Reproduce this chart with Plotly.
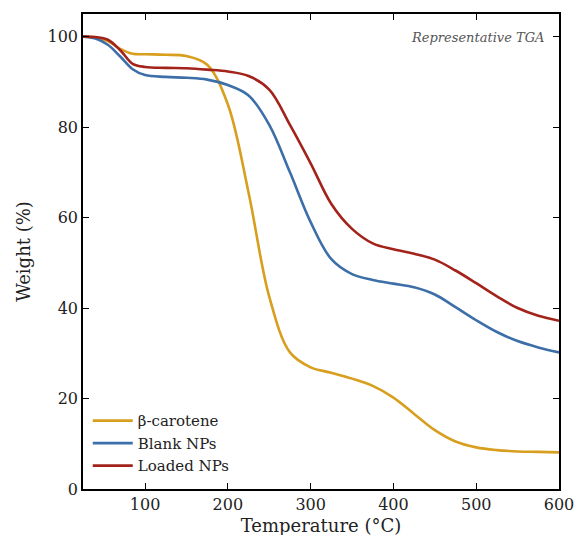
import plotly.graph_objects as go

# Temperature grid (°C) and residual weight (%) for each sample
temperature = [25, 40, 55, 70, 85, 100, 125, 150, 175, 200, 225, 250, 275,
               300, 325, 350, 375, 400, 425, 450, 475, 500, 525, 550, 575, 600]

beta_carotene = [100, 99.8, 99.0, 97.3, 96.2, 96.1, 96.0, 95.7, 93.8, 85.0,
                 65.5, 42.5, 30.2, 26.9, 25.7, 24.4, 22.8, 20.2, 16.6, 13.0,
                 10.5, 9.2, 8.6, 8.3, 8.2, 8.1]

blank_nps = [100, 99.6, 98.2, 95.6, 92.8, 91.5, 91.1, 90.9, 90.5, 89.3,
             87.0, 80.5, 70.0, 59.0, 50.8, 47.5, 46.2, 45.4, 44.6, 43.0,
             40.2, 37.3, 34.7, 32.7, 31.3, 30.2]

loaded_nps = [100, 99.9, 99.3, 97.0, 94.0, 93.3, 93.1, 93.0, 92.7, 92.3,
              91.3, 88.3, 80.5, 72.0, 63.0, 57.5, 54.3, 53.0, 52.0, 50.7,
              48.3, 45.5, 42.6, 40.0, 38.3, 37.2]

series = [
    ("β-carotene", beta_carotene, "#D89E1E"),
    ("Blank NPs", blank_nps, "#3C6EA8"),
    ("Loaded NPs", loaded_nps, "#A3231B"),
]

FONT = "DejaVu Serif"

fig = go.Figure()
for name, values, color in series:
    fig.add_trace(go.Scatter(
        x=temperature, y=values, name=name, mode="lines",
        line=dict(color=color, width=2.6, shape="spline", smoothing=1.0),
    ))

axis_style = dict(
    showline=True, linecolor="black", linewidth=1.6, mirror="ticks",
    ticks="inside", ticklen=6, tickwidth=1.4, tickcolor="black",
    showgrid=False, zeroline=False,
    tickfont=dict(family=FONT, size=16, color="#222"),
)

fig.update_xaxes(range=[25, 600], tickvals=[100, 200, 300, 400, 500, 600],
                 title=dict(text="Temperature (°C)",
                            font=dict(family=FONT, size=18, color="#222"),
                            standoff=6),
                 **axis_style)
fig.update_yaxes(range=[0, 105], tickvals=[0, 20, 40, 60, 80, 100],
                 title=dict(text="Weight (%)",
                            font=dict(family=FONT, size=18, color="#222"),
                            standoff=12),
                 **axis_style)

fig.add_annotation(
    text="<i>Representative TGA</i>", xref="paper", yref="paper",
    x=0.972, y=0.971, xanchor="right", yanchor="top", showarrow=False,
    font=dict(family=FONT, size=13, color="#555"),
)

fig.update_layout(
    width=586, height=545,
    margin=dict(l=83, r=17, t=13, b=48),
    paper_bgcolor="white", plot_bgcolor="white",
    showlegend=True,
    legend=dict(x=0.01, y=0.014, xanchor="left", yanchor="bottom",
                bgcolor="rgba(0,0,0,0)", borderwidth=0,
                font=dict(family=FONT, size=15, color="#222"),
                itemwidth=40, tracegroupgap=0),
)

fig.write_html("out.html")
